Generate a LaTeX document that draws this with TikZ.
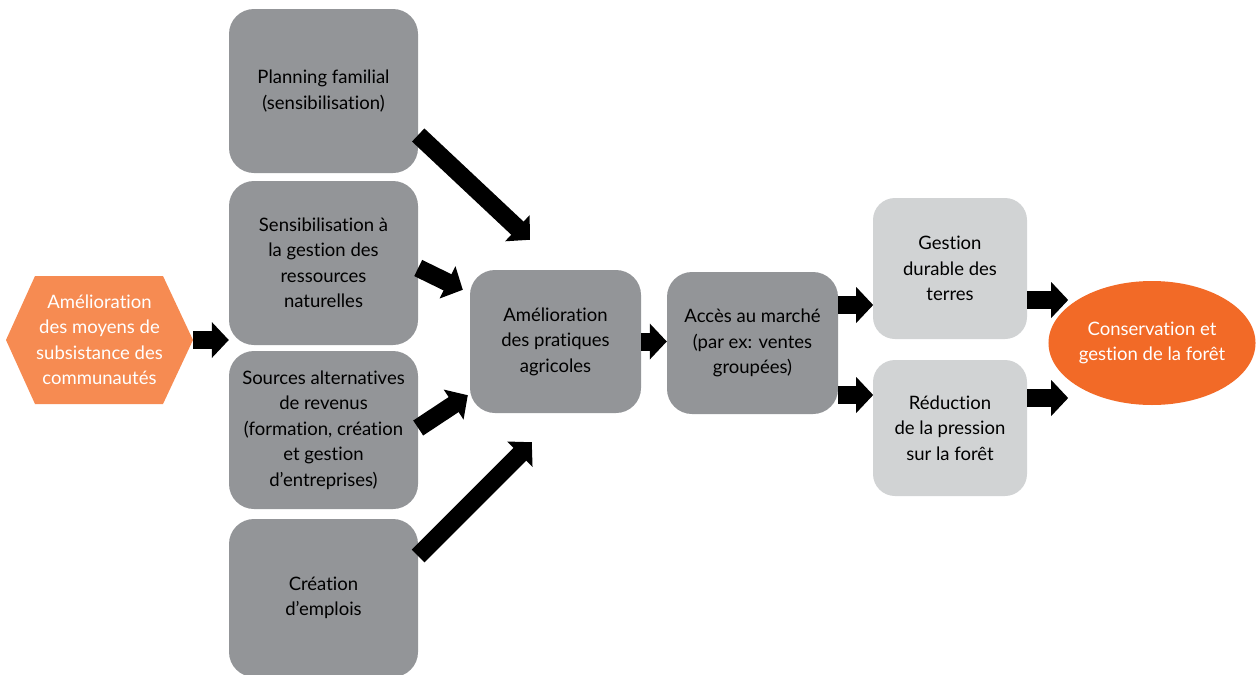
\documentclass[tikz,border=0pt]{standalone}
\usepackage{fontspec}
\setmainfont{Lato}[Ligatures=NoCommon]
\usetikzlibrary{arrows.meta,calc,shapes.geometric}
\definecolor{boxgray}{HTML}{939598}
\definecolor{boxlight}{HTML}{D1D3D4}
\definecolor{hexorange}{HTML}{F68B52}
\definecolor{goalorange}{HTML}{F26A27}
\tikzset{
  txt/.style={align=center, font=\fontsize{18.5}{25.5}\selectfont, inner sep=0pt},
  darkbox/.style={txt, fill=boxgray, rounded corners=25pt, text=black},
  lightbox/.style={txt, fill=boxlight, rounded corners=22pt, text=black},
  blk/.style={line width=18pt, -{Triangle[length=17pt,width=35pt]}, black},
}
\begin{document}
\begin{tikzpicture}[x=1pt,y=-1pt]
\useasboundingbox (0,0) rectangle (1259,675);

% starting point: the hexagon
\fill[hexorange] (6,340) -- (35,276) -- (163,276) -- (193,340) -- (163,404) -- (35,404) -- cycle;
\node[txt, text=white, minimum width=187pt, minimum height=128pt] (hex) at (99.5,340)
  {Amélioration\\des moyens de\\subsistance des\\communautés};

% left column of actions
\node[darkbox, minimum width=189pt, minimum height=164pt] (plan) at (323.5,91)
  {Planning familial\\(sensibilisation)};
\node[darkbox, minimum width=189pt, minimum height=164pt] (sens) at (323.5,263)
  {Sensibilisation à\\la gestion des\\ressources\\naturelles};
\node[darkbox, minimum width=189pt, minimum height=158pt] (src) at (323.5,430)
  {Sources alternatives\\de revenus\\(formation, création\\et gestion\\d’entreprises)};
\node[darkbox, minimum width=189pt, minimum height=158pt] (emp) at (323.5,598)
  {Création\\d’emplois};

% middle steps
\node[darkbox, minimum width=171pt, minimum height=143pt] (agr) at (555.5,341.5)
  {Amélioration\\des pratiques\\agricoles};
\node[darkbox, minimum width=171pt, minimum height=142pt] (mkt) at (752.5,343)
  {Accès au marché\\(par ex: ventes\\groupées)};

% outcomes
\node[lightbox, minimum width=154pt, minimum height=141pt] (gdt) at (950,268.5)
  {Gestion\\durable des\\terres};
\node[lightbox, minimum width=154pt, minimum height=136pt] (red) at (950,428)
  {Réduction\\de la pression\\sur la forêt};

% final goal
\node[ellipse, txt, fill=goalorange, text=white, minimum width=202pt, minimum height=124pt] (cons) at (1152,343)
  {Conservation et\\gestion de la forêt};

% block arrows
\draw[blk] (hex.east) -- (hex.east -| sens.west);
\draw[blk] ($(plan.east)+(0,44)$) -- ($(agr.north west)+(60,-30)$);
\draw[blk] ($(sens.east)+(0,5)$) -- ($(agr.north west)+(-7,20)$);
\draw[blk] ($(src.east)+(0,-2)$) -- ($(agr.south west)+(-2,-18)$);
\draw[blk] ($(emp.east)+(0,-42)$) -- ($(agr.south west)+(62,29)$);
\draw[blk] (agr.east) -- (agr.east -| mkt.west);
\draw[blk] ($(mkt.east)+(0,-38)$) -- ($(mkt.east)+(35,-38)$);
\draw[blk] ($(mkt.east)+(0,52)$) -- ($(mkt.east)+(35,52)$);
\draw[blk] ($(gdt.east)+(0,31.5)$) -- ($(gdt.east)+(41,31.5)$);
\draw[blk] ($(red.east)+(0,-30)$) -- ($(red.east)+(41,-30)$);
\end{tikzpicture}
\end{document}
